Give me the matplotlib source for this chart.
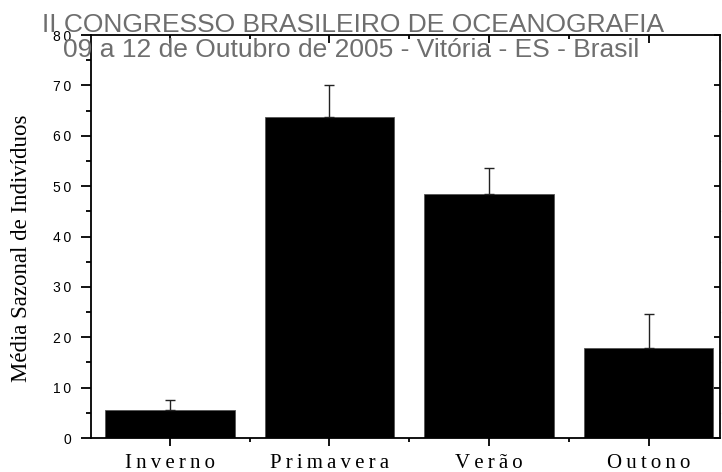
import numpy as np
import matplotlib.pyplot as plt
from matplotlib.ticker import MultipleLocator, FuncFormatter

estacoes = ['Inverno', 'Primavera', 'Verão', 'Outono']
medias = [5.6, 63.7, 48.4, 17.9]
erros = [1.9, 6.4, 5.2, 6.7]

titulo1 = 'II CONGRESSO BRASILEIRO DE OCEANOGRAFIA'
titulo2 = '09 a 12 de Outubro de 2005 - Vitória - ES - Brasil'
ylabel = 'Média Sazonal de Indivíduos'

SERIF = ['Liberation Serif', 'DejaVu Serif']
SANS = ['Liberation Sans', 'DejaVu Sans']


def espacar(s, sep='\u2009'):
    # letras espaçadas como no original
    return sep.join(s)


fig = plt.figure(figsize=(7.22, 4.72), dpi=100)
ax = fig.add_axes([0.1256, 0.072, 0.8716, 0.8538])

x = np.arange(1, len(estacoes) + 1)
ax.bar(x, medias, width=0.81, color='black', edgecolor='#555555', linewidth=0.6, zorder=2)
ax.errorbar(x, medias, yerr=[np.zeros(len(erros)), erros], fmt='none',
            ecolor='#222222', elinewidth=1.0, capsize=3.6, capthick=1.0, zorder=3)

ax.set_xlim(0.503, 4.448)
ax.set_ylim(0, 80)

ax.set_xticks(x)
ax.set_xticklabels([espacar(e) for e in estacoes], family=SERIF, fontsize=15)
ax.xaxis.set_minor_locator(MultipleLocator(0.5))
ax.yaxis.set_major_locator(MultipleLocator(10))
ax.yaxis.set_minor_locator(MultipleLocator(5))
ax.yaxis.set_major_formatter(FuncFormatter(lambda v, p: '\u2009'.join(str(int(v)))))
for lab in ax.get_yticklabels():
    lab.set_family(SANS)

ax.tick_params(axis='x', which='major', length=5.8, width=1.3, pad=6, top=True)
ax.tick_params(axis='x', which='minor', length=2.9, width=1.3, top=True)
ax.tick_params(axis='y', which='major', length=7.2, width=1.3, pad=7, labelsize=10, right=True)
ax.tick_params(axis='y', which='minor', length=3.6, width=1.3, right=False)

# eixo x: baixo para fora, topo para dentro
for t in ax.xaxis.get_major_ticks() + ax.xaxis.get_minor_ticks():
    t.tick1line.set_marker(3)
    t.tick2line.set_marker(3)
# eixo y: esquerda para fora, direita para dentro (mais curto)
for t in ax.yaxis.get_major_ticks():
    t.tick1line.set_marker(0)
    t.tick2line.set_marker(0)
    t.tick2line.set_markersize(4.3)
for t in ax.yaxis.get_minor_ticks():
    t.tick1line.set_marker(0)

# pontinhos claros dos ticks menores à direita
ax.plot([4.448] * 8, np.arange(5, 80, 10), ls='none', marker='s', ms=1,
        mew=0, color='#c8c8c8', clip_on=False)

for s in ax.spines.values():
    s.set_linewidth(1.3)

fig.text(22 / 722, 1 - 248.5 / 472, ylabel, rotation=90, ha='center', va='center',
         family=SERIF, fontsize=16.5)

fig.text(353.5 / 722, 1 - 32 / 472, titulo1, ha='center', va='baseline',
         family=SANS, fontsize=19, color='#6e6e6e')
fig.text(351.5 / 722, 1 - 57 / 472, titulo2, ha='center', va='baseline',
         family=SANS, fontsize=19, color='#6e6e6e')

fig.savefig('out.png', dpi=100)
